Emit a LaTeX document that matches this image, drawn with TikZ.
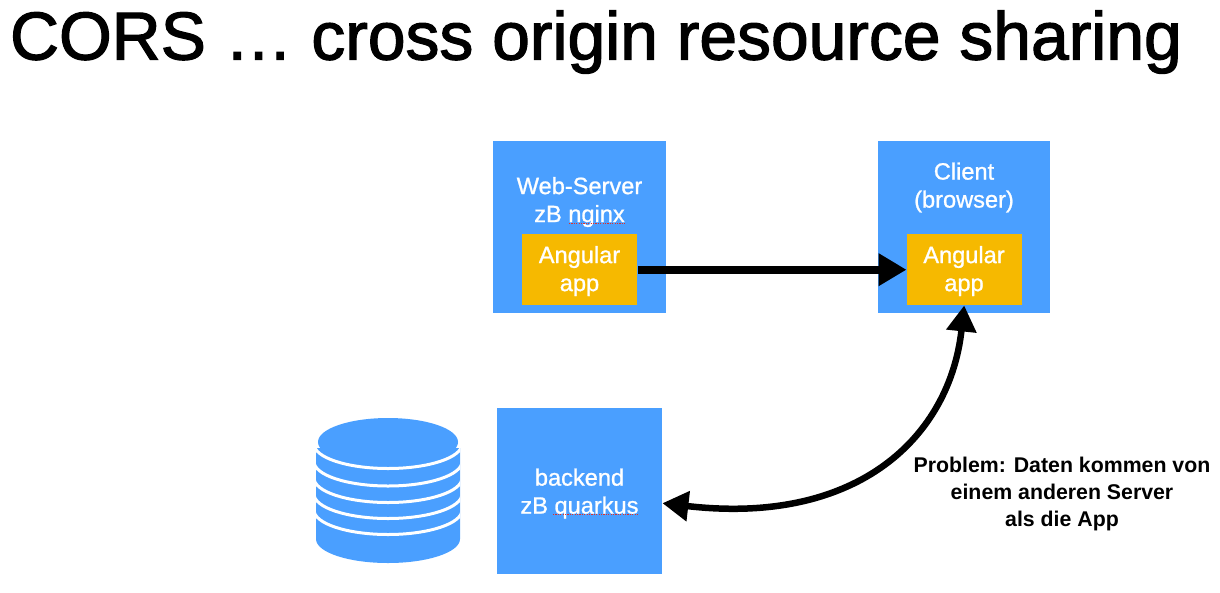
\documentclass[tikz,border=0pt]{standalone}
\usepackage{fontspec}
\setmainfont{Liberation Sans}
\usetikzlibrary{arrows.meta}
\definecolor{boxblue}{HTML}{4A9FFF}
\definecolor{apporange}{HTML}{F6B900}
\definecolor{spellred}{HTML}{E0302A}
\newcommand{\fsz}[2]{\fontsize{#1}{#2}\selectfont}
\newcommand{\med}{\addfontfeature{FakeBold=1}}
\begin{document}
\begin{tikzpicture}[x=1pt,y=-1pt,
  bluebox/.style={fill=boxblue,draw=none,inner sep=0pt,anchor=north west},
  appbox/.style={fill=apporange,draw=none,inner sep=0pt,anchor=north west},
  boxtext/.style={text=white,align=center,font=\fsz{23.6}{28}\med,inner sep=0pt},
  bigarrow/.style={line width=8pt,-{Triangle[length=28pt,width=31pt]}},
  curvearrow/.style={line width=6.5pt,{Triangle[length=26pt,width=29pt]}-{Triangle[length=26pt,width=29pt]}},
  squiggle/.style={draw=spellred,line width=1pt,dash pattern=on 1.2pt off 1.2pt},
  discline/.style={draw=white,line width=3pt}]
\useasboundingbox (0,0) rectangle (1220,592);
\node[inner sep=0pt,font=\fsz{67.8}{70}\addfontfeature{FakeBold=1.8}] (title) at (596,42) {CORS … cross origin resource sharing};
\node[bluebox,minimum width=173pt,minimum height=172pt] (server) at (493,141) {};
\node[bluebox,minimum width=172pt,minimum height=172pt] (client) at (878,141) {};
\node[bluebox,minimum width=165pt,minimum height=166pt] (backend) at (497,408) {};
\node[appbox,minimum width=115pt,minimum height=71pt] (appL) at (522,234) {};
\node[appbox,minimum width=115pt,minimum height=71pt] (appR) at (906.5,234) {};
\node[boxtext] (appLlabel) at (579.5,271) {Angular\\app};
\node[boxtext] (appRlabel) at (964,271) {Angular\\app};
\node[boxtext] (serverlabel) at (579.5,202) {Web-Server\\zB nginx};
\node[boxtext] (clientlabel) at (964,187.5) {Client\\(browser)};
\node[boxtext] (backendlabel) at (579.5,493.5) {backend\\zB quarkus};
\coordinate (sqA) at (569,223); \coordinate (sqB) at (626,223);
\draw[squiggle] (sqA) -- (sqB);
\coordinate (sqC) at (553,514.5); \coordinate (sqD) at (639,514.5);
\draw[squiggle] (sqC) -- (sqD);
% database
\fill[boxblue] (316,448) -- (460,448) -- (460,539) arc[start angle=0,end angle=180,x radius=72,y radius=24] -- cycle;
\begin{scope}
\clip (316,400) rectangle (460,570);
\foreach \c in {444,461.5,478,494,510}{
  \draw[discline] (314,\c) arc[start angle=180,end angle=0,x radius=74,y radius=24.5];
}
\end{scope}
\fill[boxblue] (388,442) ellipse[x radius=70,y radius=24];
% connectors
\draw[bigarrow] ([xshift=1pt]appL.east) -- (appR.west);
\draw[curvearrow] (appR.south) .. controls (950,435) and (860,526) .. ([yshift=-12pt]backend.east);
\node[inner sep=0pt,align=center,font=\bfseries\fsz{21.3}{27}] (problem) at (1062,494) {Problem: Daten kommen von\\einem anderen Server\\als die App};
\end{tikzpicture}
\end{document}
